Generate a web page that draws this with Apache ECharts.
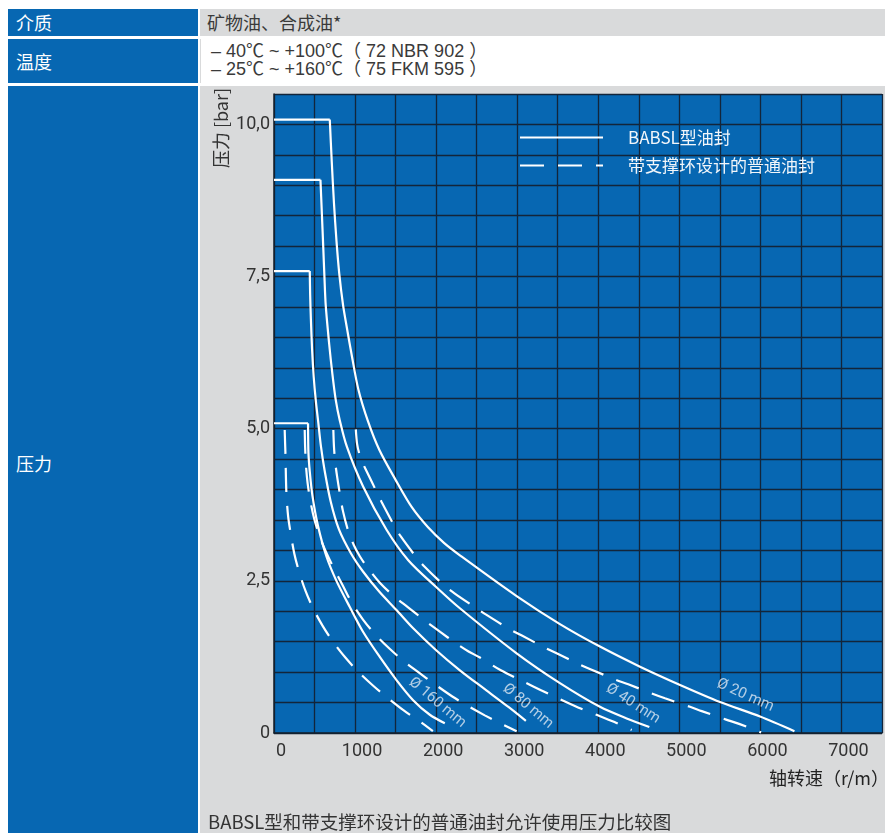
<!DOCTYPE html>
<html>
<head>
<meta charset="utf-8">
<script src="https://cdn.jsdelivr.net/npm/echarts@6/dist/echarts.min.js"></script>
<style>
  html, body { margin: 0; padding: 0; background: #ffffff; }
  #page { position: relative; width: 885px; height: 833px; overflow: hidden; background: #ffffff;
          font-family: "Noto Sans CJK SC", "Liberation Sans", sans-serif; }
  .cell { position: absolute; box-sizing: border-box; }
  .blue { background: #0767b2; color: #ffffff; font-size: 18px; padding-left: 8px; }
  .gray { background: #d9dadb; color: #3a3a3a; font-size: 18px; padding-left: 7px; }
  .white { background: #ffffff; color: #3a3a3a; font-size: 18px; padding-left: 10px;
           font-family: "Liberation Sans", "Noto Sans CJK SC", sans-serif; border-left: 1px solid #d9dadb; }
  #chart { position: absolute; left: 0; top: 0; width: 885px; height: 833px; }
</style>
</head>
<body>
<div id="page">
  <div class="cell blue" style="left:8px;top:9px;width:190px;height:27px;line-height:27px;">介质</div>
  <div class="cell gray" style="left:200px;top:9px;width:685px;height:27px;line-height:27px;">矿物油、合成油*</div>
  <div class="cell blue" style="left:8px;top:39px;width:190px;height:44px;line-height:44px;">温度</div>
  <div class="cell white" style="left:200px;top:39px;width:685px;height:44px;padding-top:3px;line-height:18px;">– 40℃ ~ +100℃（ 72 NBR 902 ）<br>– 25℃ ~ +160℃（ 75 FKM 595 ）</div>
  <div class="cell blue" style="left:8px;top:86px;width:190px;height:747px;">
    <div style="position:absolute;left:8px;top:364px;">压力</div>
  </div>
  <div class="cell gray" style="left:200px;top:86px;width:685px;height:747px;"></div>
  <div id="chart"></div>
</div>
<script>
// ---------------- data ----------------
const legendNames = ['BABSL型油封', '带支撑环设计的普通油封'];

const xTickValues = [0, 1000, 2000, 3000, 4000, 5000, 6000, 7000];
const xTickLabels = ['0', '1000', '2000', '3000', '4000', '5000', '6000', '7000'];
const yTickValues = [0, 2.5, 5, 7.5, 10];
const yTickLabels = ['0', '2,5', '5,0', '7,5', '10,0'];

// BABSL seals (solid), shaft speed r/m -> pressure bar (first point = left edge of the flat top)
const babsl20Speed    = [0, 688, 712, 740, 770, 805, 852, 900, 960, 1040, 1160, 1300, 1500, 1700, 1900, 2100, 2293, 2993, 3527, 4021, 4515, 5009, 5502, 5996, 6420];
const babsl20Pressure = [10.08, 10.08, 9.4, 8.7, 8.1, 7.55, 7.03, 6.65, 6.2, 5.65, 5.12, 4.65, 4.16, 3.71, 3.38, 3.12, 2.92, 2.25, 1.79, 1.42, 1.09, 0.79, 0.51, 0.27, 0.03];
const babsl40Speed    = [0, 573, 590, 607, 622, 638, 680, 720, 762, 811, 900, 1099, 1388, 1656, 2000, 2293, 2993, 3527, 4021, 4350, 4630];
const babsl40Pressure = [9.09, 9.09, 8.55, 8.0, 7.5, 7.03, 6.4, 5.9, 5.47, 5.14, 4.7, 4.05, 3.34, 2.84, 2.4, 2.05, 1.31, 0.82, 0.43, 0.24, 0.10];
const babsl80Speed    = [0, 441, 446, 455, 470, 490, 515, 543, 580, 626, 700, 800, 950, 1100, 1300, 1511, 1717, 2000, 2293, 2600, 2900, 3107];
const babsl80Pressure = [7.59, 7.59, 7.2, 6.8, 6.3, 5.85, 5.47, 5.14, 4.7, 4.3, 3.8, 3.35, 2.95, 2.65, 2.32, 2.02, 1.72, 1.36, 1.03, 0.72, 0.42, 0.20];
const babsl160Speed    = [0, 420, 425, 441, 474, 543, 647, 770, 935, 1100, 1305, 1511, 1716, 1922, 2107];
const babsl160Pressure = [5.09, 5.09, 4.6, 4.3, 3.9, 3.4, 2.9, 2.5, 2.07, 1.66, 1.25, 0.87, 0.54, 0.30, 0.16];

// standard seals with support ring (dashed)
const std20Speed    = [1009, 1025, 1050, 1090, 1132, 1256, 1326, 1478, 1564, 1749, 1852, 2087, 2222, 2486, 2622, 2901, 3046, 3330, 3486, 3765, 3918, 4206, 4370, 4659, 4823, 5132, 5277, 5577, 5737, 6009];
const std20Pressure = [4.99, 4.75, 4.6, 4.45, 4.33, 3.99, 3.8, 3.42, 3.23, 2.90, 2.74, 2.44, 2.30, 2.06, 1.94, 1.71, 1.61, 1.41, 1.31, 1.13, 1.04, 0.88, 0.80, 0.65, 0.57, 0.43, 0.36, 0.22, 0.15, 0.01];
const std40Speed    = [732, 740, 755, 780, 810, 850, 918, 984, 1060, 1148, 1305, 1478, 1650, 1848, 2050, 2239, 2400, 2540, 2798, 3083, 3300, 3519, 3750, 3959, 4200, 4412];
const std40Pressure = [4.98, 4.7, 4.45, 4.2, 3.95, 3.65, 3.31, 3.09, 2.9, 2.73, 2.47, 2.25, 2.07, 1.86, 1.66, 1.48, 1.34, 1.24, 1.03, 0.84, 0.70, 0.56, 0.42, 0.31, 0.18, 0.05];
const std80Speed    = [379, 384, 394, 415, 450, 500, 572, 650, 737, 850, 955, 1100, 1256, 1430, 1601, 1780, 1984, 2200, 2397, 2600, 2819, 2993];
const std80Pressure = [4.98, 4.7, 4.4, 4.1, 3.8, 3.5, 3.2, 2.95, 2.71, 2.42, 2.15, 1.86, 1.61, 1.38, 1.18, 1.0, 0.8, 0.6, 0.44, 0.29, 0.14, 0.03];
const std160Speed    = [132, 136, 141, 153, 175, 206, 250, 309, 390, 482, 600, 728, 880, 1037, 1220, 1407, 1600, 1799, 1960];
const std160Pressure = [4.98, 4.8, 4.6, 3.94, 3.55, 3.28, 2.95, 2.65, 2.33, 2.05, 1.76, 1.50, 1.24, 1.01, 0.78, 0.57, 0.37, 0.19, 0.03];

// shaft diameter labels and their anchor points
const sizeLabels    = ['Ø 20 mm', 'Ø 40 mm', 'Ø 80 mm', 'Ø 160 mm'];
const labelSpeed    = [5814, 4428, 3132, 2015];
const labelPressure = [0.62, 0.48, 0.44, 0.50];

// ---------------- chart ----------------
const labelAngles = [-24, -33, -40, -40];
const numFont = '"Liberation Sans Narrow", "Roboto", sans-serif';
const cjkFont = '"Liberation Sans Narrow", "Noto Sans CJK SC", sans-serif';

function pairs(xs, ys) { return xs.map((x, i) => [x, ys[i]]); }

const solidStyle = { color: '#ffffff', width: 2.2, type: 'solid', cap: 'butt', join: 'miter' };
const dashStyle  = { color: '#ffffff', width: 2.2, type: [24, 14], cap: 'butt' };

function lineSeries(name, data, style, smooth) {
  return {
    type: 'line', name: name, data: data,
    symbol: 'none', showSymbol: false,
    smooth: smooth,
    silent: true, z: 3,
    lineStyle: style
  };
}

const babslSets = [
  [babsl20Speed, babsl20Pressure],
  [babsl40Speed, babsl40Pressure],
  [babsl80Speed, babsl80Pressure],
  [babsl160Speed, babsl160Pressure]
];
const stdSets = [
  [std20Speed, std20Pressure],
  [std40Speed, std40Pressure],
  [std80Speed, std80Pressure],
  [std160Speed, std160Pressure]
];

const series = [];
babslSets.forEach(([xs, ys]) => {
  const pts = pairs(xs, ys);
  // flat top (sharp corner) and the falling curve (smoothed)
  series.push(lineSeries(legendNames[0], pts.slice(0, 2), solidStyle, false));
  series.push(lineSeries(legendNames[0], pts.slice(1), solidStyle, 0.3));
});
stdSets.forEach(([xs, ys]) => {
  series.push(lineSeries(legendNames[1], pairs(xs, ys), dashStyle, 0.3));
});

series.push({
  type: 'scatter',
  name: 'sizes',
  silent: true,
  z: 4,
  symbol: 'circle',
  symbolSize: 1,
  itemStyle: { color: 'rgba(0,0,0,0)' },
  data: sizeLabels.map((s, i) => ({
    value: [labelSpeed[i], labelPressure[i]],
    name: s,
    label: { rotate: labelAngles[i] }
  })),
  label: {
    show: true,
    position: 'inside',
    formatter: p => p.name,
    color: '#dfe9f3',
    fontSize: 15,
    fontFamily: numFont
  }
});

function findLabel(values, labels, v) {
  for (let i = 0; i < values.length; i++) {
    if (Math.abs(values[i] - v) < 1e-6) return labels[i];
  }
  return '';
}

const chart = echarts.init(document.getElementById('chart'), null, { renderer: 'canvas' });
chart.setOption({
  animation: false,
  backgroundColor: 'transparent',
  grid: {
    left: 274, top: 94, right: 3, bottom: 100,
    show: true, backgroundColor: '#0767b2', borderWidth: 0, containLabel: false
  },
  legend: {
    data: legendNames,
    orient: 'vertical',
    left: 519,
    top: 129,
    padding: 0,
    itemWidth: 83,
    itemHeight: 14,
    itemGap: 11,
    selectedMode: false,
    itemStyle: { color: 'rgba(0,0,0,0)', borderWidth: 0, opacity: 0 },
    textStyle: { color: '#f2f6fa', fontSize: 17, fontFamily: cjkFont, padding: [0, 0, 0, 20] }
  },
  xAxis: {
    type: 'value',
    min: 0,
    max: 7500,
    interval: 500,
    axisLine: { show: true, lineStyle: { color: '#14212e', width: 1.5 } },
    axisTick: { show: false },
    splitLine: { show: true, lineStyle: { color: '#13253a', width: 1.3 } },
    axisLabel: {
      margin: 9,
      color: '#333333',
      fontSize: 18,
      fontFamily: numFont,
      padding: [0, 0, 0, 14],
      formatter: v => findLabel(xTickValues, xTickLabels, v)
    }
  },
  yAxis: {
    type: 'value',
    min: 0,
    max: 10.5,
    interval: 0.5,
    axisLine: { show: true, lineStyle: { color: '#14212e', width: 1.5 } },
    axisTick: { show: false },
    splitLine: { show: true, lineStyle: { color: '#13253a', width: 1.3 } },
    axisLabel: {
      margin: 4,
      color: '#333333',
      fontSize: 18,
      fontFamily: numFont,
      formatter: v => findLabel(yTickValues, yTickLabels, v)
    }
  },
  graphic: [
    {
      type: 'text', x: 221, y: 128, rotation: Math.PI / 2,
      style: { text: '压力 [bar]', fontSize: 18, fontFamily: cjkFont, fill: '#333333', align: 'center', verticalAlign: 'middle' }
    },
    {
      type: 'text', x: 889, y: 778,
      style: { text: '轴转速（r/m）', fontSize: 18, fontFamily: cjkFont, fill: '#222222', align: 'right', verticalAlign: 'middle' }
    },
    {
      type: 'text', x: 208, y: 822,
      style: { text: 'BABSL型和带支撑环设计的普通油封允许使用压力比较图', fontSize: 18.5, fontFamily: cjkFont, fill: '#333333', align: 'left', verticalAlign: 'middle' }
    }
  ],
  series: series
});
</script>
</body>
</html>
